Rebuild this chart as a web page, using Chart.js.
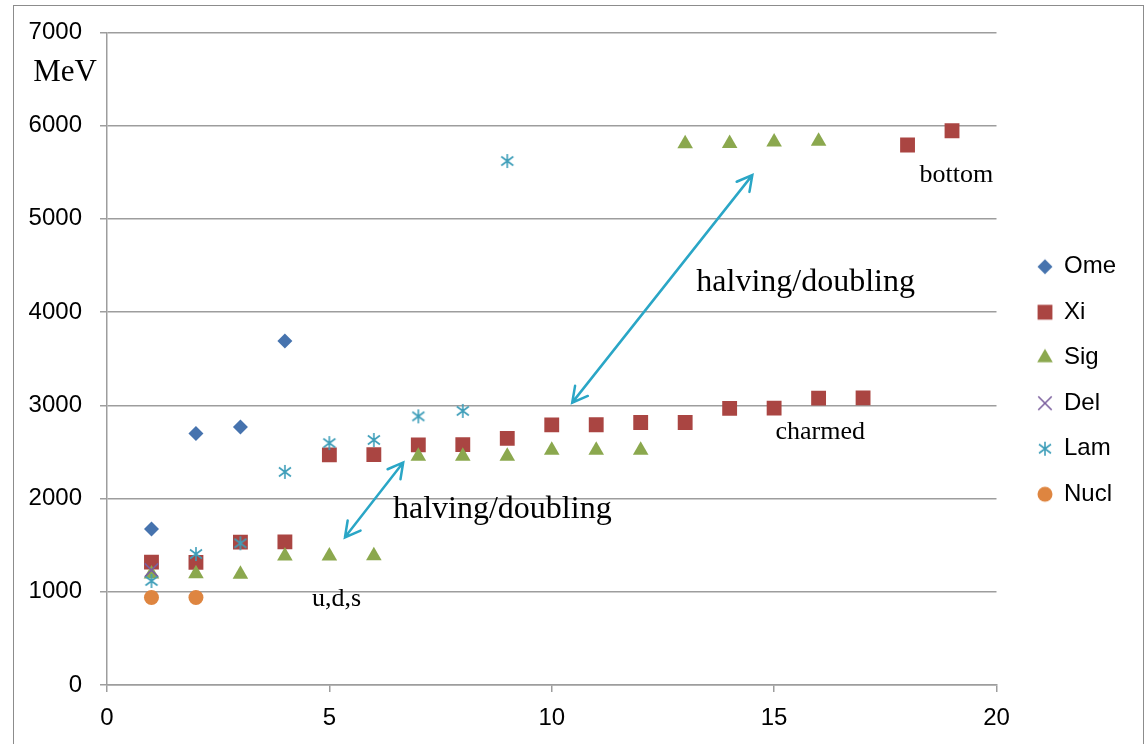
<!DOCTYPE html>
<html>
<head>
<meta charset="utf-8">
<script src="https://cdn.jsdelivr.net/npm/chart.js@4"></script>
<style>
  body { margin: 0; background: #fff; overflow: hidden; }
  #frame { position: absolute; left: 13px; top: 5px; width: 1129px; height: 800px; border: 1.5px solid #8c8c8c; }
  #c { position: absolute; left: 0; top: 0; }
</style>
</head>
<body>
<div id="frame"></div>
<canvas id="c" width="1145" height="744"></canvas>
<script>
// values (MeV) by state index 1..n
const omeValues = [1672, 2698, 2768, 3690];
const xiValues = [1318, 1315, 1532, 1535, 2468, 2471, 2576, 2578, 2645, 2790, 2791, 2816, 2816, 2967, 2970, 3077, 3080, 5792, 5945];
const sigValues = [1190, 1192, 1189, 1383, 1384, 1387, 2454, 2453, 2454, 2518, 2517, 2518, 5805, 5808, 5825, 5833];
const delValues = [1232];
const lamValues = [1116, 1405, 1520, 2286, 2595, 2628, 2882, 2940, 5620];
const nuclValues = [939, 939];

const yTicks = [0, 1000, 2000, 3000, 4000, 5000, 6000, 7000];
const xTicks = [0, 5, 10, 15, 20];

// annotations, in data coordinates
const notes = [
  { text: 'MeV', x: -1.66, y: 6475, size: 31 },
  { text: 'halving/doubling', x: 13.25, y: 4228, size: 32 },
  { text: 'halving/doubling', x: 6.43, y: 1787, size: 32 },
  { text: 'bottom', x: 18.27, y: 5394, size: 26 },
  { text: 'charmed', x: 15.03, y: 2644, size: 26 },
  { text: 'u,d,s', x: 4.61, y: 846, size: 26 }
];
const arrows = [
  { x1: 10.46, y1: 3029, x2: 14.51, y2: 5469 },
  { x1: 5.35, y1: 1584, x2: 6.66, y2: 2387 }
];

const colors = {
  Ome: '#4673AE', Xi: '#AA4542', Sig: '#8BA84E', Del: '#7B5F9E', Lam: '#3E9EB9', Nucl: '#DE8540'
};

function toPoints(vals) {
  return vals.map((v, i) => ({ x: i + 1, y: v }));
}

// asterisk marker like Excel's star
function starMarker(color) {
  const cv = document.createElement('canvas');
  cv.width = 16; cv.height = 16;
  const g = cv.getContext('2d');
  g.strokeStyle = color;
  g.lineWidth = 1.6;
  g.beginPath();
  g.moveTo(8, 1); g.lineTo(8, 15);
  g.moveTo(2, 3.5); g.lineTo(14, 12.5);
  g.moveTo(2, 12.5); g.lineTo(14, 3.5);
  g.stroke();
  return cv;
}

// small marker image for the legend, same shape as the plot marker
function legendMarker(ds) {
  if (typeof ds.pointStyle !== 'string') return ds.pointStyle;
  const cv = document.createElement('canvas');
  cv.width = 22; cv.height = 22;
  const g = cv.getContext('2d');
  g.fillStyle = ds.backgroundColor;
  g.strokeStyle = ds.borderColor;
  g.lineWidth = ds.borderWidth;
  Chart.helpers.drawPoint(g, { pointStyle: ds.pointStyle, radius: ds.legendRadius, borderWidth: ds.borderWidth, rotation: 0 }, 11, 11);
  return cv;
}

const datasets = [
  { label: 'Ome', data: toPoints(omeValues), pointStyle: 'rectRot', pointRadius: 7.5, legendRadius: 7.5,
    backgroundColor: colors.Ome, borderColor: colors.Ome, borderWidth: 0 },
  { label: 'Xi', data: toPoints(xiValues), pointStyle: 'rect', pointRadius: 10.5, legendRadius: 10.5,
    backgroundColor: colors.Xi, borderColor: colors.Xi, borderWidth: 0 },
  { label: 'Sig', data: toPoints(sigValues), pointStyle: 'triangle', pointRadius: 9, legendRadius: 9,
    backgroundColor: colors.Sig, borderColor: colors.Sig, borderWidth: 0 },
  { label: 'Del', data: toPoints(delValues), pointStyle: 'crossRot', pointRadius: 9.5, legendRadius: 9.5,
    backgroundColor: colors.Del, borderColor: colors.Del, borderWidth: 1.6 },
  { label: 'Lam', data: toPoints(lamValues), pointStyle: starMarker(colors.Lam), pointRadius: 8,
    backgroundColor: colors.Lam, borderColor: colors.Lam, borderWidth: 1.6 },
  { label: 'Nucl', data: toPoints(nuclValues), pointStyle: 'circle', pointRadius: 7.5, legendRadius: 7.5,
    backgroundColor: colors.Nucl, borderColor: colors.Nucl, borderWidth: 0 }
];
// later series on top, like the original
datasets.forEach((d, i) => { d.order = datasets.length - i; d.showLine = false; });

const annotate = {
  id: 'annotate',
  afterLayout(chart) {
    // nudge legend to match the original spacing
    const lg = chart.legend;
    lg.left += 20; lg.right += 20;
    lg.top -= 7; lg.bottom -= 7;
  },
  afterDatasetsDraw(chart) {
    const { ctx } = chart;
    const xs = chart.scales.x, ys = chart.scales.y;
    ctx.save();
    ctx.strokeStyle = '#2AA6C6';
    ctx.lineWidth = 2.5;
    ctx.lineCap = 'round';
    arrows.forEach(a => {
      const x1 = xs.getPixelForValue(a.x1), y1 = ys.getPixelForValue(a.y1);
      const x2 = xs.getPixelForValue(a.x2), y2 = ys.getPixelForValue(a.y2);
      ctx.beginPath();
      ctx.moveTo(x1, y1); ctx.lineTo(x2, y2);
      const ang = Math.atan2(y2 - y1, x2 - x1);
      const L = 17, w = 0.5;
      [[x1, y1, ang], [x2, y2, ang + Math.PI]].forEach(([tx, ty, t]) => {
        ctx.moveTo(tx + L * Math.cos(t - w), ty + L * Math.sin(t - w));
        ctx.lineTo(tx, ty);
        ctx.lineTo(tx + L * Math.cos(t + w), ty + L * Math.sin(t + w));
      });
      ctx.stroke();
    });
    ctx.fillStyle = '#000';
    ctx.textAlign = 'left';
    ctx.textBaseline = 'alphabetic';
    notes.forEach(n => {
      ctx.font = n.size + 'px "Liberation Serif", "Times New Roman", serif';
      ctx.fillText(n.text, xs.getPixelForValue(n.x), ys.getPixelForValue(n.y));
    });
    ctx.restore();
  }
};

const tickFont = { family: '"Liberation Sans", Arial, sans-serif', size: 24 };

new Chart(document.getElementById('c'), {
  type: 'scatter',
  data: { datasets: datasets },
  options: {
    responsive: false,
    animation: false,
    layout: { padding: { top: 31, right: 39, left: 0, bottom: 0 } },
    plugins: {
      tooltip: { enabled: false },
      legend: {
        position: 'right',
        labels: {
          usePointStyle: true,
          boxWidth: 14,
          boxHeight: 14,
          padding: 21.5,
          color: '#000',
          font: tickFont,
          sort: (a, b) => a.datasetIndex - b.datasetIndex,
          generateLabels: chart => {
            const items = Chart.defaults.plugins.legend.labels.generateLabels(chart);
            items.forEach(it => { it.pointStyle = legendMarker(chart.data.datasets[it.datasetIndex]); });
            return items;
          }
        }
      }
    },
    scales: {
      x: {
        type: 'linear',
        min: 0, max: 20,
        afterBuildTicks: axis => { axis.ticks = xTicks.map(v => ({ value: v })); },
        afterFit: axis => { axis.height = 59; },
        grid: { drawOnChartArea: false, drawTicks: true, tickLength: 7, color: '#9d9d9d', lineWidth: 1.5 },
        border: { color: '#9d9d9d', width: 1.5 },
        ticks: { color: '#000', font: tickFont, padding: 12, maxRotation: 0, callback: v => String(v) }
      },
      y: {
        type: 'linear',
        min: 0, max: 7000,
        afterBuildTicks: axis => { axis.ticks = yTicks.map(v => ({ value: v })); },
        afterFit: axis => { axis.width = 107; },
        grid: { color: '#9d9d9d', lineWidth: 1.5, tickLength: 7 },
        border: { color: '#9d9d9d', width: 1.5 },
        ticks: { color: '#000', font: tickFont, padding: 18, callback: v => String(v) }
      }
    }
  },
  plugins: [annotate]
});
</script>
</body>
</html>
